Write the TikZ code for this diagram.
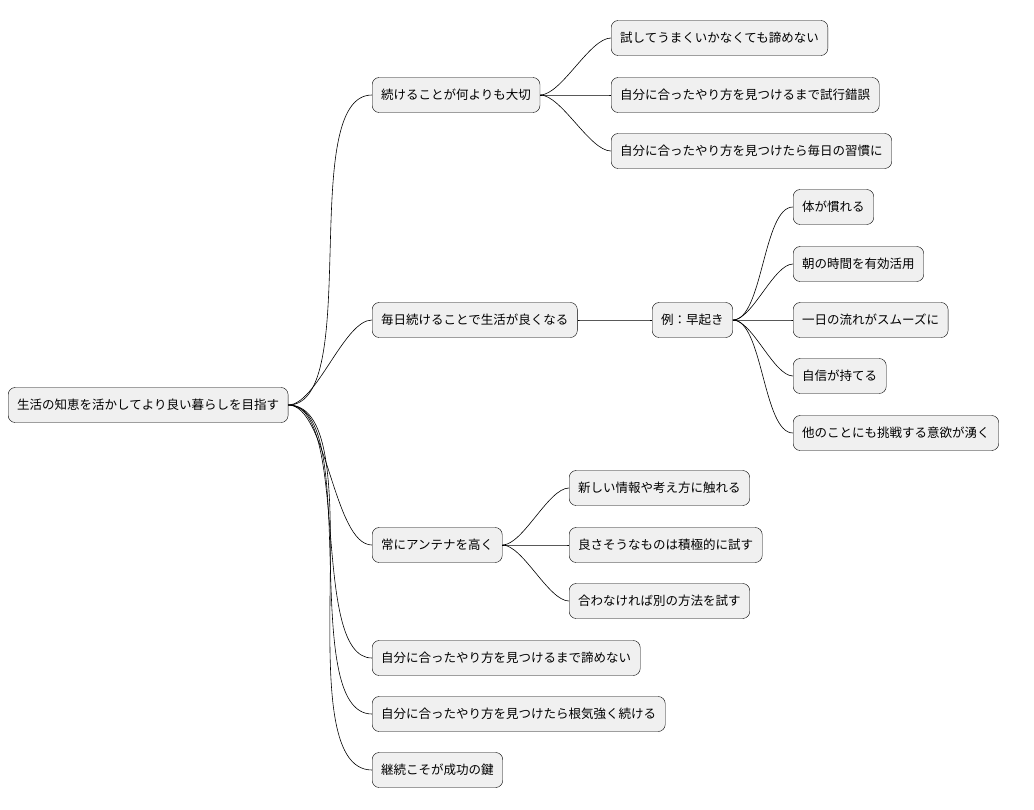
\documentclass[tikz,border=0pt]{standalone}
\usepackage{fontspec}
\setmainfont{Noto Sans CJK JP}
\usetikzlibrary{positioning}

\tikzset{
    topic/.style={draw=black, fill=black!6, rounded corners=7pt, anchor=west, minimum height=35pt, inner xsep=9pt, inner ysep=0pt, font=\fontsize{12.5pt}{14pt}\selectfont},
    branch/.style={draw=black, line width=0.6pt},
}

\begin{document}
\begin{tikzpicture}[x=1pt, y=-1pt]
    \useasboundingbox (0,0) rectangle (1034,809);

    \node[topic] (root) at (8,405) {生活の知恵を活かしてより良い暮らしを目指す};

    \node[topic] (keep) at (372,95) {続けることが何よりも大切};
    \node[topic] (daily) at (372,320) {毎日続けることで生活が良くなる};
    \node[topic] (antenna) at (372,545) {常にアンテナを高く};
    \node[topic] (nogiveup) at (372,658) {自分に合ったやり方を見つけるまで諦めない};
    \node[topic] (patient) at (372,714) {自分に合ったやり方を見つけたら根気強く続ける};
    \node[topic] (success) at (372,770) {継続こそが成功の鍵};

    \node[topic] (try) at (611,38) {試してうまくいかなくても諦めない};
    \node[topic] (trial) at (611,95) {自分に合ったやり方を見つけるまで試行錯誤};
    \node[topic] (habit) at (611,151) {自分に合ったやり方を見つけたら毎日の習慣に};

    \node[topic] (early) at (652,320) {例：早起き};
    \node[topic] (body) at (793,207) {体が慣れる};
    \node[topic] (morning) at (793,264) {朝の時間を有効活用};
    \node[topic] (smooth) at (793,320) {一日の流れがスムーズに};
    \node[topic] (confidence) at (793,376) {自信が持てる};
    \node[topic] (challenge) at (793,433) {他のことにも挑戦する意欲が湧く};

    \node[topic] (info) at (569,488) {新しい情報や考え方に触れる};
    \node[topic] (active) at (569,545) {良さそうなものは積極的に試す};
    \node[topic] (other) at (569,601) {合わなければ別の方法を試す};

    % connectors
    \foreach \a/\b in {root/keep, root/daily, root/antenna, root/nogiveup, root/patient, root/success,
                       keep/try, keep/trial, keep/habit, daily/early,
                       early/body, early/morning, early/smooth, early/confidence, early/challenge,
                       antenna/info, antenna/active, antenna/other}
        \draw[branch] (\a.east) to[out=0, in=180, looseness=0.6] (\b.west);
\end{tikzpicture}
\end{document}
